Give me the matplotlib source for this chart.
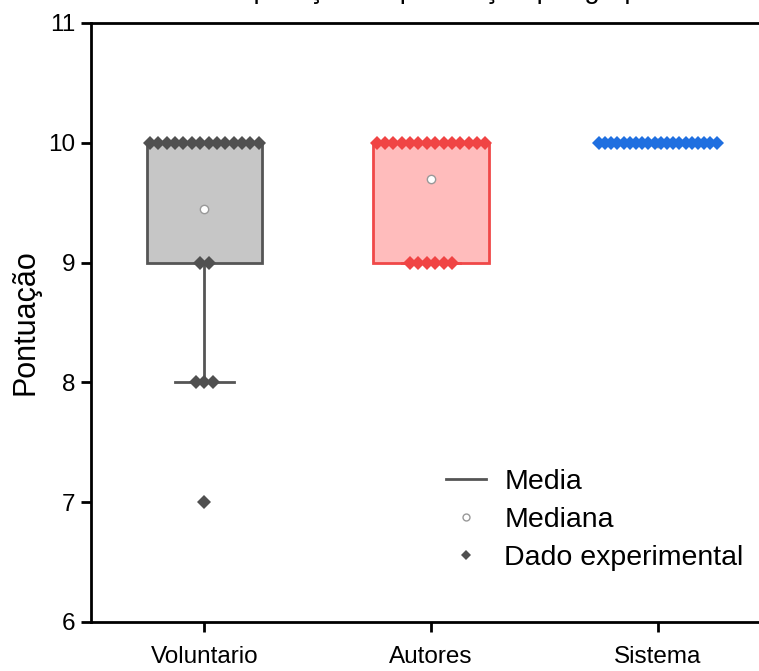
import numpy as np
from matplotlib import pyplot as plt
from matplotlib.lines import Line2D

# score counts per group (value -> how many answers)
groups = ["Voluntario", "Autores", "Sistema"]
voluntario = [10] * 14 + [9] * 2 + [8] * 3 + [7] * 1
autores = [10] * 14 + [9] * 6
sistema = [10] * 20
data = [voluntario, autores, sistema]

edge_cols = ["#555555", "#f04848", "#1f6fe0"]
fill_cols = ["#c6c6c6", "#ffbcbc", "#a9c8f5"]
dot_cols = ["#505050", "#f04444", "#1f6fe0"]

plt.rcParams['font.family'] = ['Liberation Sans', 'DejaVu Sans']

fig = plt.figure(figsize=(7.59, 6.71), dpi=100)
ax = fig.add_axes([91 / 759, 49 / 671, 680 / 759, 599 / 671])

pos = np.arange(1, len(groups) + 1)
bw = 0.51

bp = ax.boxplot(data, positions=pos, widths=bw, whis=1.5, showfliers=False,
                patch_artist=True, manage_ticks=False)
for i in range(len(groups)):
    bp['boxes'][i].set(facecolor=fill_cols[i], edgecolor=edge_cols[i], linewidth=2)
    bp['medians'][i].set(color=edge_cols[i], linewidth=2)
    for w in bp['whiskers'][2 * i:2 * i + 2]:
        w.set(color=edge_cols[i], linewidth=2)
    for c in bp['caps'][2 * i:2 * i + 2]:
        c.set(color=edge_cols[i], linewidth=2)
        mid = np.mean(c.get_xdata())
        c.set_xdata([mid - 0.13, mid + 0.13])

# mean markers
for i, vals in enumerate(data):
    ax.plot(pos[i], np.mean(vals), 'o', ms=6, mfc='white', mec='#999999',
            mew=1, zorder=4)

# experimental points, spread sideways for equal values
for i, vals in enumerate(data):
    vals = np.array(vals)
    for v in np.unique(vals):
        n = np.sum(vals == v)
        s = min(0.0368, 0.52 / max(n - 1, 1))
        xs = pos[i] + (np.arange(n) - (n - 1) / 2) * s
        ax.plot(xs, [v] * n, 'D', ms=7, color=dot_cols[i], mec=dot_cols[i],
                mew=0, zorder=5, linestyle='none')

ax.set_xlim(0.5, 3.5)
ax.set_ylim(6, 11)
ax.set_yticks([6, 7, 8, 9, 10, 11])
ax.set_xticks(pos)
ax.set_xticklabels(groups)
ax.tick_params(axis='both', direction='out', length=7, width=2, labelsize=17.5,
               top=False, right=False)
ax.tick_params(axis='y', pad=4)
ax.tick_params(axis='x', pad=10)
for sp in ax.spines.values():
    sp.set_linewidth(2)
    sp.set_color('black')
ax.set_ylabel("Pontuação", fontsize=22, labelpad=6)

handles = [
    Line2D([], [], color='#555555', lw=2),
    Line2D([], [], marker='o', ls='none', ms=5, mfc='white', mec='#999999', mew=1),
    Line2D([], [], marker='D', ls='none', ms=5, color='#505050', mew=0),
]
ax.legend(handles, ["Media", "Mediana", "Dado experimental"], loc='upper left',
          bbox_to_anchor=(0.522, 0.255), frameon=False, fontsize=20.5,
          handlelength=1.4, handletextpad=0.65, labelspacing=0.42, borderpad=0,
          borderaxespad=0)

fig.text(0.56, 1.003, "Comparação da pontuação por grupo", ha='center', va='baseline',
         fontsize=20, transform=fig.transFigure)

fig.savefig("out.png", dpi=100)
